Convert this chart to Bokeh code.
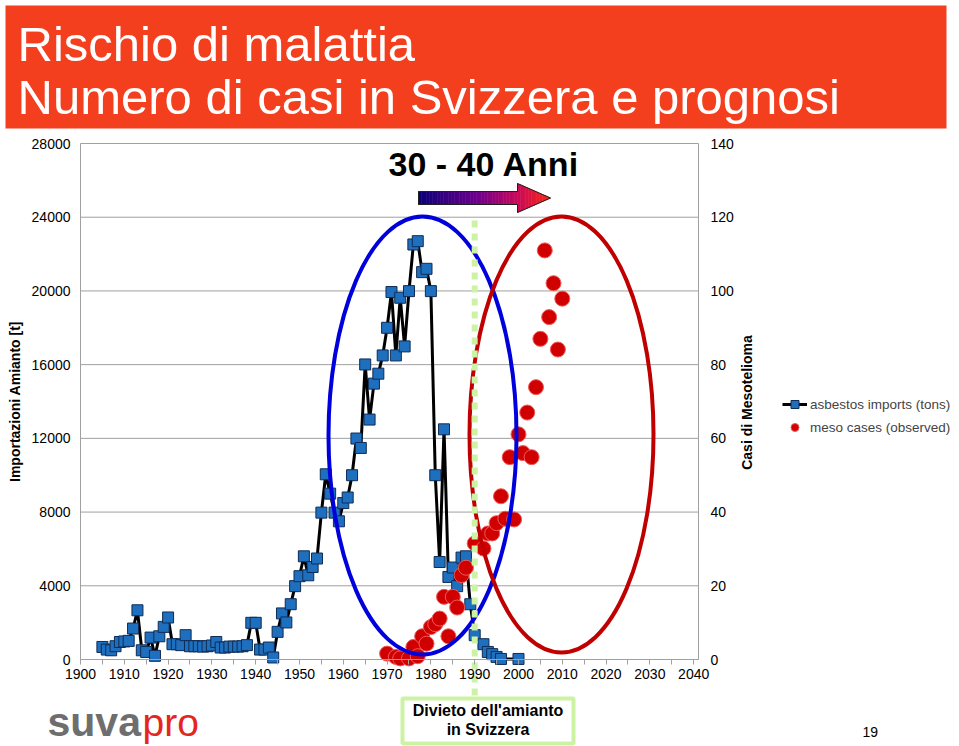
import math
from bokeh.plotting import figure
from bokeh.models import (Range1d, LinearAxis, FixedTicker, PrintfTickFormatter,
                          Legend, LegendItem)
from bokeh.core.properties import value
from bokeh.embed import file_html
from bokeh.resources import INLINE

# ---------------- data ----------------
import_years = [1905, 1906, 1907, 1908, 1909, 1910, 1911, 1912, 1913, 1914,
                1915, 1916, 1917, 1918, 1919, 1920, 1921, 1922, 1923, 1924,
                1925, 1926, 1927, 1928, 1929, 1930, 1931, 1932, 1933, 1934,
                1935, 1936, 1937, 1938, 1939, 1940, 1941, 1942, 1943, 1944,
                1945, 1946, 1947, 1948, 1949, 1950, 1951, 1952, 1953, 1954,
                1955, 1956, 1957, 1958, 1959, 1960, 1961, 1962, 1963, 1964,
                1965, 1966, 1967, 1968, 1969, 1970, 1971, 1972, 1973, 1974,
                1975, 1976, 1977, 1978, 1979, 1980, 1981, 1982, 1983, 1984,
                1985, 1986, 1987, 1988, 1989, 1990, 1992, 1993, 1994, 1995,
                1996, 2000]
import_tons = [680, 540, 500, 720, 950, 980, 1010, 1680, 2670, 500,
               410, 1190, 200, 1260, 1770, 2280, 830, 830, 780, 1320,
               720, 720, 720, 700, 720, 760, 950, 650, 650, 700,
               700, 700, 720, 780, 1990, 1990, 540, 540, 650, 110,
               1500, 2500, 2010, 3000, 3980, 4520, 5600, 4570, 5020, 5480,
               7970, 10050, 9000, 7970, 7500, 8490, 8790, 10000, 11990, 11480,
               16010, 13020, 14970, 15510, 16500, 18000, 19940, 16500, 19630, 16990,
               19990, 22520, 22700, 21020, 21200, 19990, 10000, 5290, 12490, 4480,
               4990, 3980, 5530, 5600, 3000, 1320, 830, 410, 290, 140,
               30, 30]

meso_years = [1970, 1972, 1973, 1975, 1976, 1977, 1978, 1979, 1980, 1981,
              1982, 1983, 1984, 1985, 1986, 1987, 1988, 1990, 1992, 1993,
              1994, 1995, 1996, 1997, 1998, 1999, 2000, 2001, 2002, 2003,
              2004, 2005, 2006, 2007, 2008, 2009, 2010]
meso_cases = [1.6, 0.7, 0.3, 0.3, 3.4, 0.9, 6.3, 4.3, 8.8, 9.6,
              11.1, 17.0, 6.3, 17.0, 14.1, 22.9, 24.9, 31.5, 30.1, 34.2,
              34.2, 37.0, 44.3, 38.2, 54.9, 38.0, 61.1, 56.0, 67.0, 54.9,
              73.9, 87.0, 111.0, 92.9, 102.1, 84.1, 97.9]

x_ticks = list(range(1900, 2041, 10))
x_minor_ticks = list(range(1905, 2041, 10))
left_ticks = list(range(0, 28001, 4000))
right_ticks = list(range(0, 141, 20))
ban_year = 1990

title_lines = ["Rischio di malattia", "Numero di casi in Svizzera e prognosi"]
lag_text = "30 - 40 Anni"
ban_lines = ["Divieto dell'amianto", "in Svizzera"]
series_labels = ["asbestos imports (tons)", "meso cases (observed)"]
left_title = "Importazioni Amianto [t]"
right_title = "Casi di Mesotelioma"

# ---------------- geometry (page pixels) ----------------
CW, CH = 959, 746
X_MIN, X_MAX = 1900, 2041.1
Y_MAX, R_MAX = 28000, 140
PL, PR, PT, PB = 80, 698, 143, 659   # chart box on the page
SX = (PR - PL) / (X_MAX - X_MIN)
SY = (PB - PT) / Y_MAX
FONT = "Liberation Sans"
GRAY = "#a0a0a0"
GREEN = "#ccf2a4"


def px2x(px):
    return X_MIN + (px - PL) / SX


def py2y(py):
    return (PB - py) / SY


y_lo, y_hi = py2y(CH), py2y(0)
p = figure(width=CW, height=CH,
           x_range=Range1d(px2x(0), px2x(CW)),
           y_range=Range1d(y_lo, y_hi),
           toolbar_location=None, tools="", output_backend="svg",
           min_border=0, min_border_left=0, min_border_right=0,
           min_border_top=0, min_border_bottom=0,
           outline_line_color=None, background_fill_color="white",
           border_fill_color="white")
p.extra_y_ranges = {"meso": Range1d(y_lo * R_MAX / Y_MAX, y_hi * R_MAX / Y_MAX)}
p.grid.visible = False

# axes pinned to the chart box
xa = p.xaxis[0]
xa.fixed_location = 0
xa.bounds = (X_MIN, X_MAX)
xa.ticker = FixedTicker(ticks=x_ticks, minor_ticks=x_minor_ticks)
xa.major_tick_out = 5
xa.major_tick_in = 0
xa.minor_tick_out = 5
xa.minor_tick_in = 0
xa.axis_line_color = GRAY
xa.major_tick_line_color = GRAY
xa.minor_tick_line_color = GRAY
xa.major_label_text_font = FONT
xa.major_label_text_font_size = "14px"
xa.major_label_text_color = "black"
xa.major_label_standoff = 4

ya = p.yaxis[0]
ya.fixed_location = X_MIN
ya.bounds = (0, Y_MAX)
ya.ticker = FixedTicker(ticks=left_ticks)
ya.formatter = PrintfTickFormatter(format="%d")
ya.major_tick_out = 0
ya.major_tick_in = 0
ya.minor_tick_out = 0
ya.minor_tick_in = 0
ya.axis_line_color = GRAY
ya.major_label_text_font = FONT
ya.major_label_text_font_size = "14px"
ya.major_label_text_color = "black"
ya.major_label_standoff = 10
ya.axis_label = left_title
ya.axis_label_text_font = FONT
ya.axis_label_text_font_style = "bold"
ya.axis_label_text_font_size = "14px"
ya.axis_label_text_color = "black"
ya.axis_label_standoff = 6

ra = LinearAxis(y_range_name="meso", fixed_location=X_MAX, bounds=(0, R_MAX),
                ticker=FixedTicker(ticks=right_ticks),
                formatter=PrintfTickFormatter(format="%d"),
                major_tick_out=0, major_tick_in=0, minor_tick_out=0, minor_tick_in=0,
                axis_line_color=GRAY, major_label_text_font=FONT,
                major_label_text_font_size="14px", major_label_text_color="black",
                major_label_standoff=12)
p.add_layout(ra, "right")


def label(px, py_mid, txt, size, color="black", bold=False, align="left", angle=0.0):
    p.text(x=[px2x(px)], y=[py2y(py_mid)], text=[txt], angle=angle,
           text_font=value(FONT), text_font_size=size, text_color=color,
           text_font_style="bold" if bold else "normal",
           text_baseline="middle", text_align=align)


# header band
p.quad(left=[px2x(5)], right=[px2x(946)], top=[py2y(5)], bottom=[py2y(128)],
       fill_color="#f43f1e", line_color=None)
label(17, 43, title_lines[0], "49px", color="white")
label(17, 96, title_lines[1], "49px", color="white")

# horizontal gridlines
p.segment(x0=[X_MIN] * len(left_ticks), x1=[X_MAX] * len(left_ticks),
          y0=left_ticks, y1=left_ticks, line_color=GRAY, line_width=1)

# series
line_r = p.line(import_years, import_tons, line_color="black", line_width=3)
sq_r = p.scatter(import_years, import_tons, marker="square", size=11,
                 fill_color="#1f6fbf", line_color="#0f2c55", line_width=1)
circ_r = p.scatter(meso_years, meso_cases, marker="circle", size=15, y_range_name="meso",
                   fill_color="#d10000", line_color="#f05a5a", line_width=1)

# ellipses (slide annotations)
p.ellipse(x=[px2x(422)], y=[py2y(435)], width=[188 / SX], height=[438 / SY],
          fill_color=None, line_color="#0000dd", line_width=4)
p.ellipse(x=[px2x(561)], y=[py2y(434)], width=[184 / SX], height=[436 / SY],
          fill_color=None, line_color="#c00000", line_width=4)

# gradient arrow
ax0, axh, axt = 418, 517, 550
ay, bh, hh = 197.5, 6.5, 14.5
stops = [(0.0, (10, 0, 120)), (0.45, (110, 0, 140)), (0.75, (200, 10, 90)), (1.0, (250, 40, 20))]


def grad(t):
    for (t0, c0), (t1, c1) in zip(stops[:-1], stops[1:]):
        if t <= t1:
            f = (t - t0) / (t1 - t0)
            return "#%02x%02x%02x" % tuple(int(round(a + (b - a) * f)) for a, b in zip(c0, c1))
    return "#%02x%02x%02x" % stops[-1][1]


sxs, sys_, scol = [], [], []
nb, nh = 36, 12
for i in range(nb):
    a = ax0 + (axh - ax0) * i / nb
    b = ax0 + (axh - ax0) * (i + 1) / nb
    sxs.append([px2x(a), px2x(b), px2x(b), px2x(a)])
    sys_.append([py2y(ay - bh), py2y(ay - bh), py2y(ay + bh), py2y(ay + bh)])
    scol.append(grad(((a + b) / 2 - ax0) / (axt - ax0)))
for i in range(nh):
    a = axh + (axt - axh) * i / nh
    b = axh + (axt - axh) * (i + 1) / nh
    ha = hh * (axt - a) / (axt - axh)
    hb = hh * (axt - b) / (axt - axh)
    sxs.append([px2x(a), px2x(b), px2x(b), px2x(a)])
    sys_.append([py2y(ay - ha), py2y(ay - hb), py2y(ay + hb), py2y(ay + ha)])
    scol.append(grad(((a + b) / 2 - ax0) / (axt - ax0)))
p.patches(sxs, sys_, fill_color=scol, line_color=scol, line_width=0.6)
outline_px = [(ax0, ay - bh), (axh, ay - bh), (axh, ay - hh), (axt, ay),
              (axh, ay + hh), (axh, ay + bh), (ax0, ay + bh), (ax0, ay - bh)]
p.line([px2x(a) for a, _ in outline_px], [py2y(b) for _, b in outline_px],
       line_color="#202020", line_width=1)

label(388, 163, lag_text, "34px", bold=True)

# right axis title (reads bottom-to-top)
label(746, 402, right_title, "14px", bold=True, align="center", angle=math.pi / 2)

# ban box (below the chart)
p.quad(left=[px2x(402)], right=[px2x(573)], top=[py2y(698)], bottom=[py2y(743)],
       fill_color="white", line_color=GREEN, line_width=4)
label(487.5, 710, ban_lines[0], "16px", bold=True, align="center")
label(487.5, 729, ban_lines[1], "16px", bold=True, align="center")

# ban year dotted line
p.line(x=[ban_year, ban_year], y=[py2y(220), py2y(698)], line_color=GREEN,
       line_width=6, line_dash="7 6")

# logo and page number
label(47, 721, "suva", "41px", color="#6e6e6e", bold=True)
label(142, 722, "pro", "39px", color="#e52521")
label(862, 731, "19", "14px")

# legend to the right of the chart
legend = Legend(items=[LegendItem(label=series_labels[0], renderers=[line_r, sq_r]),
                       LegendItem(label=series_labels[1], renderers=[circ_r])],
                location=(782, CH - 437), padding=4, spacing=3,
                glyph_width=25, glyph_height=20, label_standoff=3,
                label_text_font=FONT, label_text_font_size="13.5px", label_height=20,
                border_line_color=None, background_fill_alpha=0)
p.add_layout(legend)

open("out.html", "w").write(file_html(p, INLINE))
